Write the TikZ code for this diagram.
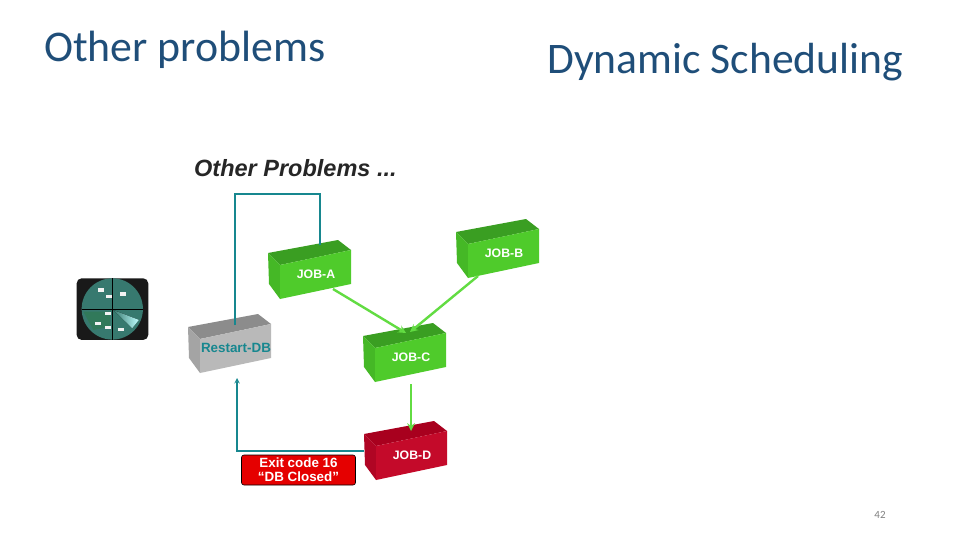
\documentclass[tikz,border=0pt]{standalone}
\usepackage{fontspec}
\setmainfont{Carlito}
\newfontfamily\labelfont{Liberation Sans}
\definecolor{titleblue}{HTML}{1F4E79}
\definecolor{tealline}{HTML}{17878F}
\definecolor{arrowgreen}{HTML}{62DC42}
\definecolor{greentop}{HTML}{3A9E22}
\definecolor{greenfront}{HTML}{4FCB2B}
\definecolor{greenside}{HTML}{45B826}
\definecolor{greytop}{HTML}{8C8C8C}
\definecolor{greyfront}{HTML}{B9B9B9}
\definecolor{greyside}{HTML}{A4A4A4}
\definecolor{redtop}{HTML}{A8001E}
\definecolor{redfront}{HTML}{C40A2A}
\definecolor{redside}{HTML}{B00524}
\definecolor{clockface}{HTML}{37796F}
\definecolor{clockgreen}{HTML}{2E7A4C}
\tikzset{
  slidetitle/.style={font=\fontsize{#1}{#1}\selectfont, text=titleblue, inner sep=0pt, anchor=base west},
  boxlabel/.style={font=\labelfont\bfseries\fontsize{12.3}{14}\selectfont, inner sep=0pt},
  tealarrow/.style={tealline, line width=1.4pt},
  greenarrow/.style={arrowgreen, line width=2.4pt, ->, >=stealth},
}
% box: name, top left corner, label, colour family, label colour
\newcommand{\jobbox}[5]{
  \fill[#4top] (#2) -- ++(70,-13) -- ++(13,10) -- ++(-71,15) -- cycle;
  \fill[#4side] (#2) -- ++(12,12) -- ++(0,34) -- ++(-11,-15) -- cycle;
  \fill[#4front] (#2) ++(12,12) -- ++(71,-15) -- ++(0,34) -- ++(-71,15) -- cycle;
  \node[boxlabel, text=#5] (#1) at ([shift={(48,21)}]#2) {#3};
}
\begin{document}
\begin{tikzpicture}[x=1pt, y=-1pt]
  \useasboundingbox (0,0) rectangle (960,540);
  \node[slidetitle=43.8] (titleleft) at (44,62) {Other problems};
  \node[slidetitle=43.6] (titleright) at (547,74) {Dynamic Scheduling};
  \node[font=\fontsize{11}{11}\selectfont, text=gray] (pagenum) at (880,515) {42};
  \node[font=\labelfont\bfseries\itshape\fontsize{23.5}{25}\selectfont, text=black!85, inner sep=0pt, anchor=west] (heading) at (194,168) {Other Problems ...};

  % the boxes
  \jobbox{jobA}{268,253}{JOB-A}{green}{white}
  \jobbox{jobB}{456,232}{JOB-B}{green}{white}
  \jobbox{jobC}{363,336}{JOB-C}{green}{white}
  \jobbox{jobD}{364,434}{JOB-D}{red}{white}
  \jobbox{restart}{188,327}{\fontsize{13.4}{15}\selectfont Restart-DB}{grey}{tealline}

  \node[draw=black, line width=.6pt, fill=red!90!black, rounded corners=2.5pt, minimum width=114pt, minimum height=30pt, inner sep=0pt, align=center, text=white, font=\labelfont\bfseries\fontsize{13.4}{14}\selectfont] (exitcode) at (298.5,470) {Exit code 16\\“DB Closed”};

  % clock
  \begin{scope}[shift={(70,270)}, x=.333pt, y=-.333pt]
    \fill[black!90, rounded corners=5pt] (20,25) rectangle (235,210);
    \fill[clockface] (127,117) circle[radius=92];
    \fill[clockgreen, opacity=.6] (40,125) -- (120,125) -- (120,170) -- (70,180) -- cycle;
    \fill[left color=clockface, right color=cyan!25!white] (130,120) -- (207,150) -- (187,175) -- cycle;
    \draw[black, line width=.7pt] (35,117) -- (220,117);
    \draw[black, line width=.7pt] (127,25) -- (127,210);
    \foreach \dx/\dy in {92/60, 117/80, 160/72, 115/130, 85/160, 115/173, 152/178}
      \fill[white!90!gray] (\dx-9,\dy-5) rectangle (\dx+9,\dy+5);
  \end{scope}

  \coordinate (restartout) at (235,325);
  \coordinate (upperleft) at (235,194);
  \coordinate (upperright) at (320,194);
  \coordinate (jobAin) at (320,245);
  \coordinate (jobAout) at (333,289);
  \coordinate (jobBout) at (478,276);
  \coordinate (jobCinA) at (406,333);
  \coordinate (jobCinB) at (410,332);
  \coordinate (jobCout) at (411,384);
  \coordinate (jobDin) at (411,431);
  \coordinate (jobDout) at (364,451);
  \coordinate (lowerleft) at (237,451);
  \coordinate (restartin) at (237,378);

  % connectors
  \draw[tealarrow] (restartout) -- (upperleft) -- (upperright) -- (jobAin);
  \draw[tealarrow, ->, >=stealth] (jobDout) -- (lowerleft) -- (restartin);
  \draw[greenarrow] (jobAout) -- (jobCinA);
  \draw[greenarrow] (jobBout) -- (jobCinB);
  \draw[greenarrow] (jobCout) -- (jobDin);
\end{tikzpicture}
\end{document}
